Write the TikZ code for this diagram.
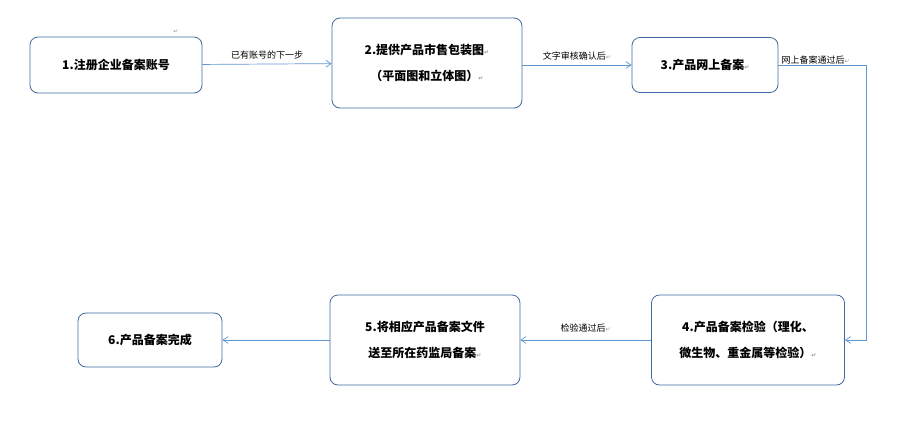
\documentclass[tikz,border=0pt]{standalone}
\usepackage{fontspec}
\setmainfont{Noto Sans CJK SC}
\newfontfamily\markfont{DejaVu Sans}
\usetikzlibrary{arrows.meta, positioning}
\definecolor{boxblue}{RGB}{65, 105, 160}
\definecolor{lineblue}{RGB}{95, 150, 210}
\definecolor{markgrey}{RGB}{150, 150, 150}
\newcommand{\pmark}{{\markfont\color{markgrey}\fontsize{6}{6}\selectfont ↵}}
\begin{document}
\begin{tikzpicture}[
    x=1pt, y=-1pt,
    stepbox/.style={rectangle, rounded corners=8pt, draw=boxblue, line width=0.8pt,
                fill=white, align=center, font=\fontsize{12}{26}\selectfont\bfseries},
    arrow/.style={-{Straight Barb[length=1.8mm, width=2.4mm]}, line width=0.7pt, lineblue},
    lbl/.style={font=\fontsize{9}{10}\selectfont, inner sep=1pt, text=black}
]
\useasboundingbox (0,0) rectangle (911,437);
\node[stepbox, minimum width=172, minimum height=56] (reg) at (116,65) {1.注册企业备案账号};
\node[stepbox, minimum width=190, minimum height=90] (pack) at (427,63) {2.提供产品市售包装图\pmark\\（平面图和立体图）\pmark};
\node[stepbox, minimum width=146, minimum height=55] (online) at (705,65) {3.产品网上备案\pmark};
\node[stepbox, minimum width=193, minimum height=90] (test) at (748,340) {4.产品备案检验（理化、\\微生物、重金属等检验）\pmark};
\node[stepbox, minimum width=190, minimum height=90] (send) at (425,340) {5.将相应产品备案文件\\送至所在药监局备案\pmark};
\node[stepbox, minimum width=144, minimum height=54] (done) at (150,340) {6.产品备案完成};
\node at (176,32) {\pmark};
\draw[arrow] (reg) -- node[lbl, above=3pt] {已有账号的下一步} (pack);
\draw[arrow] (pack.east |- online) -- node[lbl, above=3pt] {文字审核确认后\pmark} (online);
\draw[arrow] (online.east) -- ++(88,0) coordinate (turn) |- (test.east);
\node[lbl, anchor=south west] (passlbl) at ([xshift=2pt]online.east) {网上备案通过后\pmark};
\draw[arrow] (test) -- node[lbl, above=6pt] {检验通过后\pmark} (send);
\draw[arrow] (send) -- (done);
\end{tikzpicture}
\end{document}
